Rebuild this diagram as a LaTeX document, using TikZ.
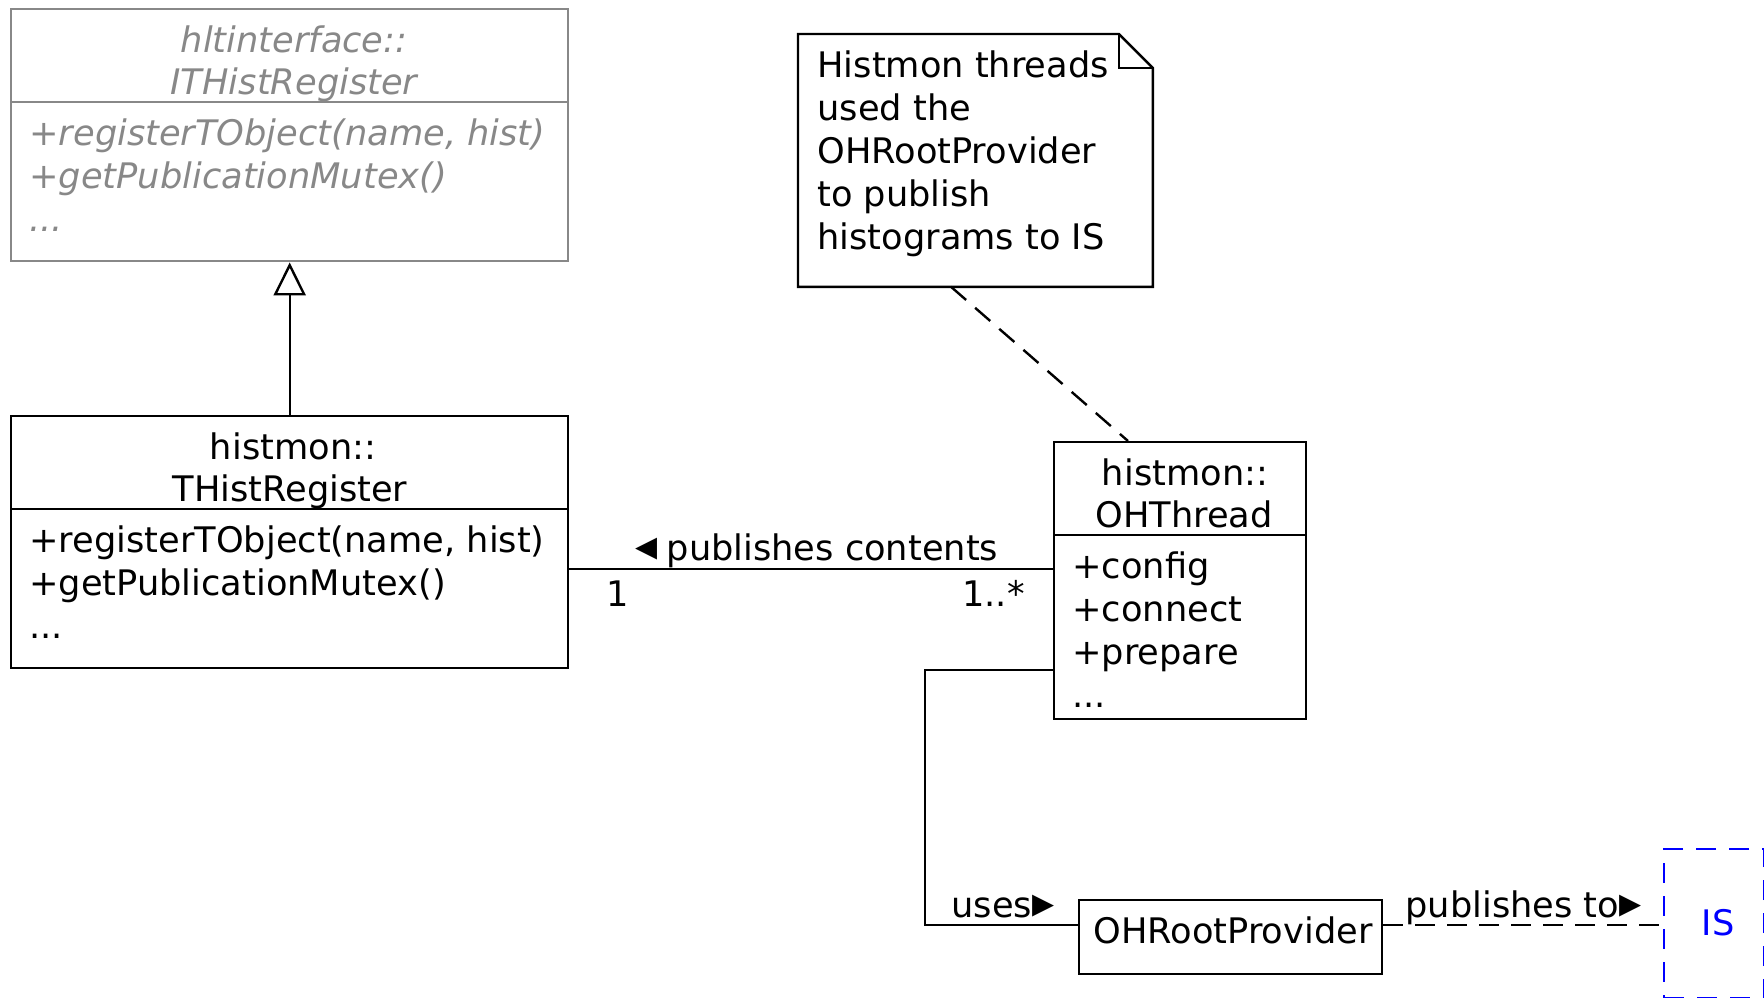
\documentclass[tikz,border=0pt]{standalone}
\usepackage{fontspec}
\setmainfont{DejaVu Sans}
\usetikzlibrary{arrows.meta}
\definecolor{ifacegray}{RGB}{136,136,136}
\definecolor{isblue}{RGB}{0,0,255}
\newcommand\umlfont{\fontsize{17.6pt}{21.5pt}\selectfont}
\newcommand\dirleft{\scalebox{1.25}{◂}}
\newcommand\dirright{\scalebox{1.25}{▸}}
\tikzset{
  lbl/.style={font=\umlfont, inner sep=0pt},
  ilbl/.style={font=\umlfont\itshape, inner sep=0pt, text=ifacegray},
  umlbox/.style={draw, line width=1.2pt, inner sep=0pt, anchor=north west},
  link/.style={line width=1.2pt},
  dashlink/.style={line width=1.2pt, dash pattern=on 10pt off 6pt},
}
\begin{document}
\begin{tikzpicture}[x=0.5pt,y=-0.5pt]
\useasboundingbox (0,0) rectangle (1764,997);

% interface class
\node[umlbox, draw=ifacegray, minimum width=278.5pt, minimum height=126pt] (ith) at (10,8) {};
\draw[link, ifacegray] (ith.west |- 0,102) -- (ith.east |- 0,102);
\node[ilbl, anchor=base] (ith-n1) at (294,52) {hltinterface::};
\node[ilbl, anchor=base] (ith-n2) at (294,94) {ITHistRegister};
\node[ilbl, anchor=base west] (ith-m1) at (29,145) {+registerTObject(name, hist)};
\node[ilbl, anchor=base west] (ith-m2) at (29,188) {+getPublicationMutex()};
\node[ilbl, anchor=base west] (ith-m3) at (29,231) {...};

% implementing class
\node[umlbox, minimum width=278.5pt, minimum height=126pt] (thr) at (10,415) {};
\draw[link] (thr.west |- 0,509) -- (thr.east |- 0,509);
\node[lbl, anchor=base] (thr-n1) at (293,459) {histmon::};
\node[lbl, anchor=base] (thr-n2) at (290,501) {THistRegister};
\node[lbl, anchor=base west] (thr-m1) at (29,552) {+registerTObject(name, hist)};
\node[lbl, anchor=base west] (thr-m2) at (29,595) {+getPublicationMutex()};
\node[lbl, anchor=base west] (thr-m3) at (29,638) {...};

% generalisation
\draw[link, -{Triangle[open, length=16.5pt, width=16pt]}] (thr.north) -- (ith.south);

% note with folded corner
\node[inner sep=0pt, minimum width=177pt, minimum height=126pt, anchor=north west] (note) at (798,34) {};
\draw[link] (note.north west) -- ([xshift=-17pt]note.north east) -- ([yshift=-17pt]note.north east)
  -- (note.south east) -- (note.south west) -- cycle;
\draw[link] ([xshift=-17pt]note.north east) |- ([yshift=-17pt]note.north east);
\foreach \t [count=\i from 0] in {Histmon threads, used the, OHRootProvider, to publish, histograms to IS}
  \node[lbl, anchor=base west] (note-l\i) at (817,77.5+43*\i) {\t};

% thread class
\node[umlbox, minimum width=126pt, minimum height=138.5pt] (oht) at (1053,441) {};
\draw[link] (oht.west |- 0,535) -- (oht.east |- 0,535);
\node[lbl, anchor=base] (oht-n1) at (1185,485) {histmon::};
\node[lbl, anchor=base] (oht-n2) at (1184,527) {OHThread};
\node[lbl, anchor=base west] (oht-m1) at (1072,578) {+config};
\node[lbl, anchor=base west] (oht-m2) at (1072,621) {+connect};
\node[lbl, anchor=base west] (oht-m3) at (1072,664) {+prepare};
\node[lbl, anchor=base west] (oht-m4) at (1072,707) {...};

% note anchor line
\draw[dashlink] (note.south -| 951,0) -- (oht.north -| 1128,0);

% association
\draw[link] (thr.east |- 0,569) -- (oht.west |- 0,569);
\node[lbl, anchor=base west] (assoc) at (635,560) {\dirleft\hspace{-1pt} publishes contents};
\node[lbl, anchor=base west] (mult1) at (606,606) {1};
\node[lbl, anchor=base east] (mult2) at (1025,606) {1..*};

% provider
\node[umlbox, minimum width=151.5pt, minimum height=37pt] (orp) at (1078,899) {};
\node[lbl, anchor=base] (orp-n) at (1233,943) {OHRootProvider};
\coordinate (bend) at (925,670);
\draw[link] (oht.west |- bend) -- (bend) |- (orp.west |- 0,925);
\node[lbl, anchor=base west] (uses) at (951,917) {uses\dirright};

% information service
\node[umlbox, draw=isblue, dash pattern=on 10pt off 6.5pt, minimum width=50pt, minimum height=74.5pt] (is) at (1663,848) {};
\node[lbl, anchor=base, text=isblue] (is-n) at (1718,935) {IS};
\draw[dashlink] (orp.east |- 0,925) -- (is.west |- 0,925);
\node[lbl, anchor=base west] (pubto) at (1405,917) {publishes to\dirright};
\end{tikzpicture}
\end{document}
